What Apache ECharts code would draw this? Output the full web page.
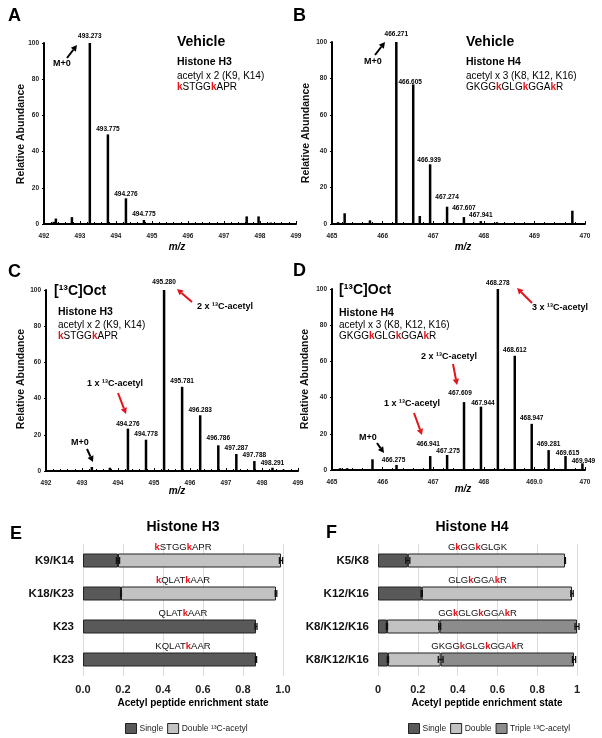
<!DOCTYPE html>
<html><head><meta charset="utf-8">
<script src="https://cdn.jsdelivr.net/npm/echarts@6/dist/echarts.min.js"></script>
<style>html,body{margin:0;padding:0;background:#fff}#c{width:602px;height:738px}</style>
</head><body><div id="c"></div>
<script>
const FONT = '"Liberation Sans", Arial, Helvetica, sans-serif';
const RED = '#e3141b';

// ---------- Panel A: Vehicle, Histone H3 ----------
const mzA  = [492.27, 492.33, 492.775, 493.273, 493.775, 494.276, 494.775, 497.35, 497.63, 497.96, 498.3];
const intA = [1.2, 3, 3.8, 100, 49.5, 14.2, 2.2, 0.5, 4.2, 4.2, 0.8];
const lblA = ['493.273', '493.775', '494.276', '494.775'];
const ticksA = ['492', '493', '494', '495', '496', '497', '498', '499'];

// ---------- Panel B: Vehicle, Histone H4 ----------
const mzB  = [465.12, 465.25, 465.75, 466.271, 466.605, 466.735, 466.939, 467.274, 467.607, 467.941, 468.26, 469.75];
const intB = [1, 5.9, 2, 100, 76.7, 4.4, 32.8, 9.5, 3.8, 1.6, 1, 7.3];
const lblB = ['466.271', '466.605', '466.939', '467.274', '467.607', '467.941'];
const ticksB = ['465', '466', '467', '468', '469', '470'];

// ---------- Panel C: [13C]Oct, Histone H3 ----------
const mzC  = [492.3, 492.6, 493.273, 493.775, 494.276, 494.778, 495.280, 495.781, 496.283, 496.786, 497.287, 497.788, 498.291, 498.6];
const intC = [0.5, 0.5, 2.2, 1.8, 23.4, 17.3, 100, 46.5, 30.8, 14.2, 9.4, 5.5, 1.8, 0.8];
const lblC = ['494.276', '494.778', '495.280', '495.781', '496.283', '496.786', '497.287', '497.788', '498.291'];
const ticksC = ['492', '493', '494', '495', '496', '497', '498', '499'];

// ---------- Panel D: [13C]Oct, Histone H4 ----------
const mzD  = [465.16, 465.3, 465.8, 466.275, 466.6, 466.75, 466.941, 467.275, 467.609, 467.944, 468.278, 468.612, 468.947, 469.281, 469.615, 469.949];
const intD = [1, 1, 5.9, 2.8, 0.6, 0.5, 7.7, 8.3, 37.5, 35, 100, 63.1, 25.5, 11, 7.7, 3.7];
const lblD = ['466.275', '466.941', '467.275', '467.609', '467.944', '468.278', '468.612', '468.947', '469.281', '469.615', '469.949'];
const ticksD = ['465', '466', '467', '468', '469.0', '470'];

// ---------- Panel E: Histone H3 enrichment ----------
const catE = ['K9/K14', 'K18/K23', 'K23', 'K23'];
const pepE = ['kSTGGkAPR', 'kQLATkAAR', 'QLATkAAR', 'KQLATkAAR'];
const singleE = [0.175, 0.19, 0.865, 0.865];
const doubleE = [0.815, 0.775, null, null];
const errSingleE = [0.008, 0.002, 0.005, 0.003];
const errDoubleE = [0.008, 0.004, null, null];
const ticksE = ['0.0', '0.2', '0.4', '0.6', '0.8', '1.0'];

// ---------- Panel F: Histone H4 enrichment ----------
const catF = ['K5/K8', 'K12/K16', 'K8/K12/K16', 'K8/K12/K16'];
const pepF = ['GkGGkGLGK', 'GLGkGGAkR', 'GGkGLGkGGAkR', 'GKGGkGLGkGGAkR'];
const singleF = [0.15, 0.22, 0.045, 0.05];
const doubleF = [0.79, 0.755, 0.265, 0.265];
const tripleF = [null, null, 0.69, 0.67];
const errSingleF = [0.01, 0.003, 0.003, 0.003];
const errDoubleF = [0.002, 0.006, 0.005, 0.012];
const errTripleF = [null, null, 0.01, 0.008];
const ticksF = ['0', '0.2', '0.4', '0.6', '0.8', '1'];

// ---------- styles ----------
const C_SINGLE = '#595959', C_DOUBLE = '#c2c2c2', C_TRIPLE = '#8c8c8c';
const labelOffsets = {
  '493.273': [0, -1], '494.276': [0, 1],
  '466.271': [0, -2], '466.605': [-3, 3], '466.939': [-1, 1], '467.274': [0, -4], '467.607': [0, -3],
  '495.280': [0, -2], '496.786': [0, -2], '498.291': [0, 1],
  '466.275': [-3, 1], '466.941': [-2, -6], '467.275': [1, 2], '467.609': [-4, -3], '467.944': [2, 2],
  '469.615': [2, 3], '469.949': [1, 3]
};

const chart = echarts.init(document.getElementById('c'), null, { renderer: 'canvas' });

function specSeries(idx, mz, ints, lbls) {
  return {
    type: 'bar', xAxisIndex: idx, yAxisIndex: idx, barWidth: 2.5, z: 3,
    itemStyle: { color: '#000' },
    label: { position: 'top', distance: 2, fontSize: 6.5, fontFamily: FONT, fontWeight: 'bold', color: '#000' },
    data: mz.map((m, i) => {
      const t = m.toFixed(3);
      const show = lbls.indexOf(t) >= 0;
      return { value: [m, ints[i]], label: { show, formatter: t, offset: labelOffsets[t] || [0, 0] } };
    })
  };
}

function specX(idx, min, max, ticks) {
  return {
    type: 'value', gridIndex: idx, min, max, interval: 1,
    axisLine: { show: true, onZero: false, lineStyle: { color: '#000', width: 2 } },
    axisTick: { show: true, inside: true, length: 3, lineStyle: { color: '#000', width: 1 } },
    minorTick: { show: true, splitNumber: 5, length: 2, lineStyle: { color: '#000', width: 1 } },
    splitLine: { show: false },
    axisLabel: { fontSize: 6.5, fontWeight: 'bold', fontFamily: FONT, color: '#222', margin: 9,
      formatter: v => ticks[Math.round(v - min)] }
  };
}
function specY(idx) {
  return {
    type: 'value', gridIndex: idx, min: 0, max: 100, interval: 20,
    axisLine: { show: true, lineStyle: { color: '#000', width: 2 } },
    axisTick: { show: true, length: 2, lineStyle: { color: '#000' } },
    splitLine: { show: false },
    axisLabel: { fontSize: 6.5, fontWeight: 'bold', fontFamily: FONT, color: '#222', margin: 5 }
  };
}
function enrichX(idx, ticks) {
  return {
    type: 'value', gridIndex: idx, min: 0, max: 1, interval: 0.2,
    axisLine: { show: false }, axisTick: { show: false },
    splitLine: { show: true, lineStyle: { color: '#dcdcdc', width: 1 } },
    axisLabel: { fontSize: 11, fontWeight: 'bold', fontFamily: FONT, color: '#222', margin: 8,
      formatter: v => ticks[Math.round(v * 5)] }
  };
}
function enrichY(idx, cats) {
  return {
    type: 'category', gridIndex: idx, data: cats, inverse: true,
    axisLine: { show: false }, axisTick: { show: false }, splitLine: { show: false },
    axisLabel: { fontSize: 11.5, fontWeight: 'bold', fontFamily: FONT, color: '#111', margin: 9 }
  };
}
function stackBar(idx, name, color, data, stack) {
  return {
    type: 'bar', name, xAxisIndex: idx, yAxisIndex: idx, stack, barWidth: 14, z: 2,
    itemStyle: { color, borderColor: '#222', borderWidth: 1 },
    data
  };
}
function cumulative(arrs) {
  const out = []; let acc = arrs[0].map(() => 0);
  arrs.forEach(a => { acc = acc.map((s, i) => s + (a[i] || 0)); out.push(acc.slice()); });
  return out;
}
function errSeries(idx, ends, errs) {
  const data = [];
  ends.forEach((e, i) => { if (errs[i] != null) data.push([e, errs[i], i]); });
  return {
    type: 'custom', xAxisIndex: idx, yAxisIndex: idx, z: 6, silent: true,
    encode: { x: 0, y: 2 },
    renderItem(params, api) {
      const c = api.value(0), e = api.value(1), cat = api.value(2);
      const p1 = api.coord([c - e, cat]), p2 = api.coord([c + e, cat]);
      const h = 3.5, st = { stroke: '#111', lineWidth: 1.3 };
      return { type: 'group', children: [
        { type: 'line', shape: { x1: p1[0], y1: p1[1], x2: p2[0], y2: p2[1] }, style: st },
        { type: 'line', shape: { x1: p1[0], y1: p1[1] - h, x2: p1[0], y2: p1[1] + h }, style: st },
        { type: 'line', shape: { x1: p2[0], y1: p2[1] - h, x2: p2[0], y2: p2[1] + h }, style: st }
      ] };
    },
    data
  };
}
function pepRich(s) { return s.replace(/k/g, '{r|k}'); }
function pepSeries(idx, peps) {
  return {
    type: 'custom', xAxisIndex: idx, yAxisIndex: idx, z: 7, silent: true,
    encode: { x: 0, y: 1 },
    data: peps.map((p, i) => [0.5, i]),
    renderItem(params, api) {
      const p = api.coord([api.value(0), api.value(1)]);
      return {
        type: 'text', x: p[0], y: p[1] - 13,
        style: {
          text: pepRich(peps[params.dataIndex]),
          fontSize: 9.5, fontFamily: FONT, fontWeight: 'normal', fill: '#111',
          align: 'center', verticalAlign: 'middle',
          rich: { r: { fill: RED, fontWeight: 'bold', fontSize: 9.5, fontFamily: FONT } }
        }
      };
    }
  };
}

// ---------- graphic helpers ----------
function T(x, y, text, size, weight, align, extra) {
  const style = Object.assign({
    text, fontSize: size, fontWeight: weight || 'normal', fontFamily: FONT, fill: '#000',
    align: align || 'left', verticalAlign: 'middle', textAlign: align || 'left', textVerticalAlign: 'middle'
  }, extra || {});
  return { type: 'text', x, y, silent: true, style };
}
function PEP(x, y, s, size) {
  return T(x, y, pepRich(s), size, 'normal', 'left', {
    rich: { r: { fill: RED, fontWeight: 'bold', fontSize: size, fontFamily: FONT } }
  });
}
function ARROW(x1, y1, x2, y2, color) {
  const a = Math.atan2(y2 - y1, x2 - x1), L = 6, W = 3.2;
  const bx = x2 - L * Math.cos(a), by = y2 - L * Math.sin(a);
  const px = -Math.sin(a) * W, py = Math.cos(a) * W;
  return [
    { type: 'line', silent: true, shape: { x1, y1, x2: bx, y2: by }, style: { stroke: color, lineWidth: 2 } },
    { type: 'polygon', silent: true, shape: { points: [[x2, y2], [bx + px, by + py], [bx - px, by - py]] }, style: { fill: color } }
  ];
}
function YNAME(x, y) {
  return { type: 'text', x, y, rotation: Math.PI / 2, silent: true,
    style: { text: 'Relative Abundance', fontSize: 10.5, fontWeight: 'bold', fontFamily: FONT, fill: '#111',
      align: 'center', verticalAlign: 'middle', textAlign: 'center', textVerticalAlign: 'middle' } };
}
function MZ(x, y) {
  return T(x, y, 'm/z', 10, 'bold', 'center', { fontStyle: 'italic' });
}

const graphics = [
  T(8, 16, 'A', 18, 'bold'), T(293, 16, 'B', 18, 'bold'),
  T(8, 272, 'C', 18, 'bold'), T(293, 271, 'D', 18, 'bold'),
  T(10, 534, 'E', 18, 'bold'), T(326, 533, 'F', 18, 'bold'),
  YNAME(21, 134), YNAME(306, 133), YNAME(21, 379), YNAME(305, 379),
  MZ(177, 247), MZ(463, 247), MZ(177, 491), MZ(463, 489),
  // A
  T(177, 42, 'Vehicle', 14, 'bold'), T(177, 62, 'Histone H3', 10.5, 'bold'),
  T(177, 76, 'acetyl x 2 (K9, K14)', 10), PEP(177, 87, 'kSTGGkAPR', 10),
  T(62, 64, 'M+0', 9, 'bold', 'center'), ...ARROW(67, 58, 77, 45, '#000'),
  // B
  T(466, 42, 'Vehicle', 14, 'bold'), T(466, 62, 'Histone H4', 10.5, 'bold'),
  T(466, 76, 'acetyl x 3 (K8, K12, K16)', 10), PEP(466, 87, 'GKGGkGLGkGGAkR', 10),
  T(373, 62, 'M+0', 9, 'bold', 'center'), ...ARROW(375, 55, 385, 42, '#000'),
  // C
  T(54, 291, '[¹³C]Oct', 14, 'bold'), T(58, 312, 'Histone H3', 10.5, 'bold'),
  T(58, 325, 'acetyl x 2 (K9, K14)', 10), PEP(58, 336, 'kSTGGkAPR', 10),
  T(80, 443, 'M+0', 9, 'bold', 'center'), ...ARROW(87, 449, 93, 462, '#000'),
  T(87, 384, '1 x ¹³C-acetyl', 9, 'bold'), ...ARROW(118, 393, 126, 414, RED),
  T(197, 307, '2 x ¹³C-acetyl', 9, 'bold'), ...ARROW(192, 302, 177, 289, RED),
  // D
  T(339, 290, '[¹³C]Oct', 14, 'bold'), T(339, 313, 'Histone H4', 10.5, 'bold'),
  T(339, 325, 'acetyl x 3 (K8, K12, K16)', 10), PEP(339, 336, 'GKGGkGLGkGGAkR', 10),
  T(368, 438, 'M+0', 9, 'bold', 'center'), ...ARROW(377, 443, 384, 453, '#000'),
  T(384, 404, '1 x ¹³C-acetyl', 9, 'bold'), ...ARROW(414, 413, 422, 435, RED),
  T(421, 357, '2 x ¹³C-acetyl', 9, 'bold'), ...ARROW(453, 364, 457, 385, RED),
  T(532, 308, '3 x ¹³C-acetyl', 9, 'bold'), ...ARROW(532, 303, 517, 288, RED),
  // E / F titles and axis names
  T(183, 527, 'Histone H3', 14, 'bold', 'center'), T(472, 527, 'Histone H4', 14, 'bold', 'center'),
  T(193, 703, 'Acetyl peptide enrichment state', 10, 'bold', 'center'),
  T(487, 703, 'Acetyl peptide enrichment state', 10, 'bold', 'center')
];

const cumE = cumulative([singleE, doubleE]);
const cumF = cumulative([singleF, doubleF, tripleF]);

const option = {
  animation: false,
  backgroundColor: '#fff',
  textStyle: { fontFamily: FONT },
  grid: [
    { left: 44, top: 43, width: 252, height: 181, outerBoundsMode: 'none' },
    { left: 332, top: 42, width: 253, height: 182, outerBoundsMode: 'none' },
    { left: 46, top: 290, width: 252, height: 181, outerBoundsMode: 'none' },
    { left: 332, top: 289, width: 253, height: 181, outerBoundsMode: 'none' },
    { left: 83, top: 544, width: 200, height: 132, outerBoundsMode: 'none' },
    { left: 378, top: 544, width: 199, height: 132, outerBoundsMode: 'none' }
  ],
  xAxis: [
    specX(0, 492, 499, ticksA), specX(1, 465, 470, ticksB),
    specX(2, 492, 499, ticksC), specX(3, 465, 470, ticksD),
    enrichX(4, ticksE), enrichX(5, ticksF)
  ],
  yAxis: [specY(0), specY(1), specY(2), specY(3), enrichY(4, catE), enrichY(5, catF)],
  legend: [
    { data: ['Single', 'Double ¹³C-acetyl'], left: 120, top: 718, itemWidth: 11, itemHeight: 10, itemGap: 4,
      icon: 'rect', selectedMode: false,
      itemStyle: { borderColor: '#222', borderWidth: 1 },
      textStyle: { fontSize: 8.5, fontFamily: FONT, color: '#222', padding: [0, 0, 0, -2] } },
    { data: ['Single', 'Double', 'Triple ¹³C-acetyl'], left: 403, top: 718, itemWidth: 11, itemHeight: 10, itemGap: 4,
      icon: 'rect', selectedMode: false,
      itemStyle: { borderColor: '#222', borderWidth: 1 },
      textStyle: { fontSize: 8.5, fontFamily: FONT, color: '#222', padding: [0, 0, 0, -2] } }
  ],
  series: [
    specSeries(0, mzA, intA, lblA),
    specSeries(1, mzB, intB, lblB),
    specSeries(2, mzC, intC, lblC),
    specSeries(3, mzD, intD, lblD),
    stackBar(4, 'Single', C_SINGLE, singleE, 'E'),
    stackBar(4, 'Double ¹³C-acetyl', C_DOUBLE, doubleE, 'E'),
    errSeries(4, cumE[0], errSingleE),
    errSeries(4, cumE[1], errDoubleE),
    pepSeries(4, pepE),
    stackBar(5, 'Single', C_SINGLE, singleF, 'F'),
    stackBar(5, 'Double', C_DOUBLE, doubleF, 'F'),
    stackBar(5, 'Triple ¹³C-acetyl', C_TRIPLE, tripleF, 'F'),
    errSeries(5, cumF[0], errSingleF),
    errSeries(5, cumF[1], errDoubleF),
    errSeries(5, cumF[2], errTripleF),
    pepSeries(5, pepF)
  ],
  graphic: { elements: graphics }
};
chart.setOption(option);
</script>
</body></html>
